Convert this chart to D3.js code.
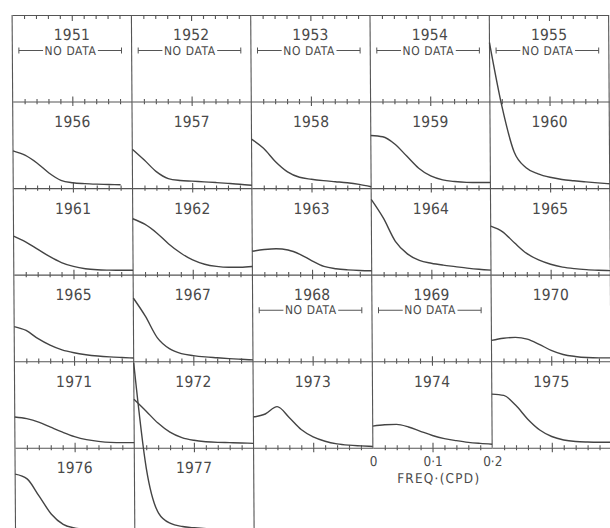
<!DOCTYPE html>
<html>
<head>
<meta charset="utf-8">
<script src="https://cdn.jsdelivr.net/npm/d3@7"></script>
<style>
  body { margin: 0; background: #fff; }
  svg { display: block; }
  text { font-family: "Liberation Sans Narrow", "DejaVu Sans Condensed", "Liberation Sans", sans-serif; fill: #4a4a4a; }
</style>
</head>
<body>
<div id="chart"></div>
<script>
// Panel titles, row by row, as printed
const panelLabels = [
    "1951", "1952", "1953", "1954", "1955",
    "1956", "1957", "1958", "1959", "1960",
    "1961", "1962", "1963", "1964", "1965",
    "1965", "1967", "1968", "1969", "1970",
    "1971", "1972", "1973", "1974", "1975",
    "1976", "1977"
];

// Frequency grid (cycles per day) and labelled ticks
const freqs = [0, 0.02, 0.04, 0.06, 0.08, 0.10, 0.12, 0.14, 0.16, 0.18, 0.20];
const freqTicks = [0, 0.1, 0.2];

// Spectral estimates, relative power (10 = one panel height)
const s1956 = [4.3, 3.8, 2.9, 1.75, 0.9, 0.62, 0.52, 0.46, 0.42, 0.38];
const s1957 = [4.5, 3.25, 1.9, 1.1, 0.88, 0.8, 0.72, 0.64, 0.55, 0.45, 0.32];
const s1958 = [5.66, 4.6, 3.05, 1.88, 1.25, 1.02, 0.86, 0.74, 0.62, 0.43, 0.16];
const s1959 = [6.08, 5.93, 5.1, 3.7, 2.3, 1.4, 0.95, 0.76, 0.66, 0.64, 0.64];
const s1960 = [16.8, 9.5, 4.2, 2.35, 1.65, 1.25, 1.0, 0.85, 0.72, 0.6, 0.5];
const s1961 = [4.45, 3.8, 2.95, 2.1, 1.4, 0.95, 0.68, 0.56, 0.52, 0.5, 0.5];
const s1962 = [6.46, 5.83, 4.82, 3.55, 2.5, 1.7, 1.2, 0.95, 0.85, 0.86, 0.95];
const s1963 = [2.7, 2.9, 3.0, 2.85, 2.35, 1.6, 0.95, 0.68, 0.55, 0.48, 0.45];
const s1964 = [8.7, 6.55, 3.85, 2.4, 1.65, 1.32, 1.1, 0.93, 0.76, 0.62, 0.52];
const s1965 = [5.6, 4.95, 3.65, 2.45, 1.7, 1.2, 0.87, 0.69, 0.58, 0.51, 0.46];
const s1966 = [4.0, 3.55, 2.6, 1.85, 1.3, 0.97, 0.75, 0.6, 0.5, 0.43, 0.37];
const s1967 = [7.3, 5.2, 2.7, 1.45, 0.88, 0.65, 0.5, 0.4, 0.3, 0.22, 0.15];
const s1970 = [2.4, 2.65, 2.75, 2.55, 1.95, 1.25, 0.78, 0.55, 0.42, 0.38, 0.38];
const s1971 = [3.55, 3.36, 2.97, 2.38, 1.8, 1.29, 0.94, 0.74, 0.62, 0.59, 0.59];
const s1972 = [5.6, 4.25, 2.85, 1.8, 1.17, 0.86, 0.7, 0.62, 0.59, 0.55, 0.51];
const s1973 = [3.55, 3.9, 4.75, 3.5, 2.1, 1.25, 0.75, 0.45, 0.3, 0.22, 0.15];
const s1974 = [2.5, 2.65, 2.7, 2.4, 1.9, 1.42, 1.06, 0.82, 0.62, 0.5, 0.41];
const s1975 = [6.2, 6.05, 4.9, 3.3, 2.05, 1.3, 0.9, 0.72, 0.66, 0.64, 0.64];
const s1976 = [6.95, 6.4, 4.4, 2.35, 1.15, 0.72, 0.55, 0.48, 0.45, 0.42, 0.4];
const s1977 = [19.8, 7.6, 2.45, 1.25, 0.9, 0.75, 0.65, 0.6, 0.55, 0.5, 0.45];

// null = no data for that year
const spectra = [
    null, null, null, null, null,
    s1956, s1957, s1958, s1959, s1960,
    s1961, s1962, s1963, s1964, s1965,
    s1966, s1967, null, null, s1970,
    s1971, s1972, s1973, s1974, s1975,
    s1976, s1977
];

// Layout
const width = 610, height = 528;
const gridLeft = 12, gridTop = 15, panelW = 119.3, panelH = 86.55, nCols = 5, nRows = 6;
const ink = "#555";

const svg = d3.select("#chart").append("svg")
    .attr("width", width)
    .attr("height", height);

// the original scan leans slightly to the right going down
const g = svg.append("g").attr("transform", "skewX(0.38)");

const xScale = c => d3.scaleLinear().domain([0, 0.2]).range([gridLeft + c * panelW, gridLeft + (c + 1) * panelW]);
const yScale = r => d3.scaleLinear().domain([0, 10]).range([gridTop + (r + 1) * panelH, gridTop + r * panelH]);

const minorTicks = freqs.filter(f => f > 0.001 && f < 0.199 && Math.abs(f - 0.1) > 0.001);

function styleAxis(sel) {
    sel.selectAll("path, line").attr("stroke", ink).attr("stroke-width", 1.1);
}

// Horizontal axes between the rows, ticks crossing the line
function drawAxis(b, c, up, down, majorUp, majorDown) {
    const x = xScale(c);
    const a = g.append("g").attr("transform", `translate(0,${gridTop + b * panelH})`);
    a.append("g").call(d3.axisBottom(x).tickValues(minorTicks).tickSize(down).tickSizeOuter(0).tickFormat(""));
    a.append("g").call(d3.axisTop(x).tickValues(minorTicks).tickSize(up).tickSizeOuter(0).tickFormat(""))
        .select(".domain").remove();
    a.append("g").call(d3.axisBottom(x).tickValues([0.1]).tickSize(majorDown).tickSizeOuter(0).tickFormat(""))
        .select(".domain").remove();
    a.append("g").call(d3.axisTop(x).tickValues([0.1]).tickSize(majorUp).tickSizeOuter(0).tickFormat(""))
        .select(".domain").remove();
    styleAxis(a);
}

for (let b = 0; b <= nRows; b++) {
    const cols = b === nRows ? 2 : nCols;
    for (let c = 0; c < cols; c++) {
        if (b === 0) drawAxis(b, c, 0, 4, 0, 6);
        else drawAxis(b, c, 2.6, 2.6, 5, 4.5);
    }
}

// Vertical panel borders
d3.range(nCols + 1).forEach(k => {
    g.append("line")
        .attr("x1", gridLeft + k * panelW).attr("x2", gridLeft + k * panelW)
        .attr("y1", gridTop)
        .attr("y2", gridTop + (k <= 2 ? nRows : nRows - 1) * panelH)
        .attr("stroke", ink)
        .attr("stroke-width", 1.1);
});

// Panels
panelLabels.forEach((label, i) => {
    const c = i % nCols, r = Math.floor(i / nCols);
    const x = xScale(c), y = yScale(r);
    const rowTop = gridTop + r * panelH;

    g.append("text")
        .attr("x", x(0.1))
        .attr("y", rowTop + 25.5)
        .attr("text-anchor", "middle")
        .attr("font-size", 15.5)
        .attr("letter-spacing", 0.2)
        .text(label);

    const values = spectra[i];
    if (!values) {
        const ly = rowTop + 35.5;
        const cx = x(0.1) - 1.5;
        const t = g.append("text")
            .attr("x", cx)
            .attr("y", ly + 4.3)
            .attr("text-anchor", "middle")
            .attr("font-size", 12)
            .attr("letter-spacing", 0.6)
            .text("NO DATA");
        const half = t.node().getComputedTextLength() / 2 + 1.5;
        const seg = g.append("g").attr("stroke", ink).attr("stroke-width", 1);
        seg.append("line").attr("x1", x(0.011)).attr("x2", cx - half).attr("y1", ly).attr("y2", ly);
        seg.append("line").attr("x1", cx + half).attr("x2", x(0.183)).attr("y1", ly).attr("y2", ly);
        seg.append("line").attr("x1", x(0.011)).attr("x2", x(0.011)).attr("y1", ly - 3).attr("y2", ly + 3);
        seg.append("line").attr("x1", x(0.183)).attr("x2", x(0.183)).attr("y1", ly - 3).attr("y2", ly + 3);
        return;
    }

    const line = d3.line()
        .x((d, j) => x(freqs[j]))
        .y(d => y(d))
        .curve(d3.curveMonotoneX);

    g.append("path")
        .datum(values)
        .attr("d", line)
        .attr("fill", "none")
        .attr("stroke", "#444")
        .attr("stroke-width", 1.4);
});

// Frequency scale under the 1974 panel
const xKey = xScale(3);
const keyAxis = g.append("g")
    .attr("transform", `translate(0,${gridTop + 5 * panelH})`)
    .call(d3.axisBottom(xKey)
        .tickValues(freqTicks)
        .tickSize(0)
        .tickPadding(8.5)
        .tickFormat(d => d === 0 ? "0" : d3.format(".1f")(d).replace(".", "·")));
keyAxis.select(".domain").remove();
keyAxis.attr("font-family", null).attr("font-size", null);
keyAxis.selectAll("text").attr("font-size", 13.5).style("fill", "#4a4a4a");

g.append("text")
    .attr("x", xKey(0.1) + 6)
    .attr("y", gridTop + 5 * panelH + 35)
    .attr("text-anchor", "middle")
    .attr("font-size", 13.5)
    .attr("letter-spacing", 1.2)
    .text("FREQ·(CPD)");
</script>
</body>
</html>
